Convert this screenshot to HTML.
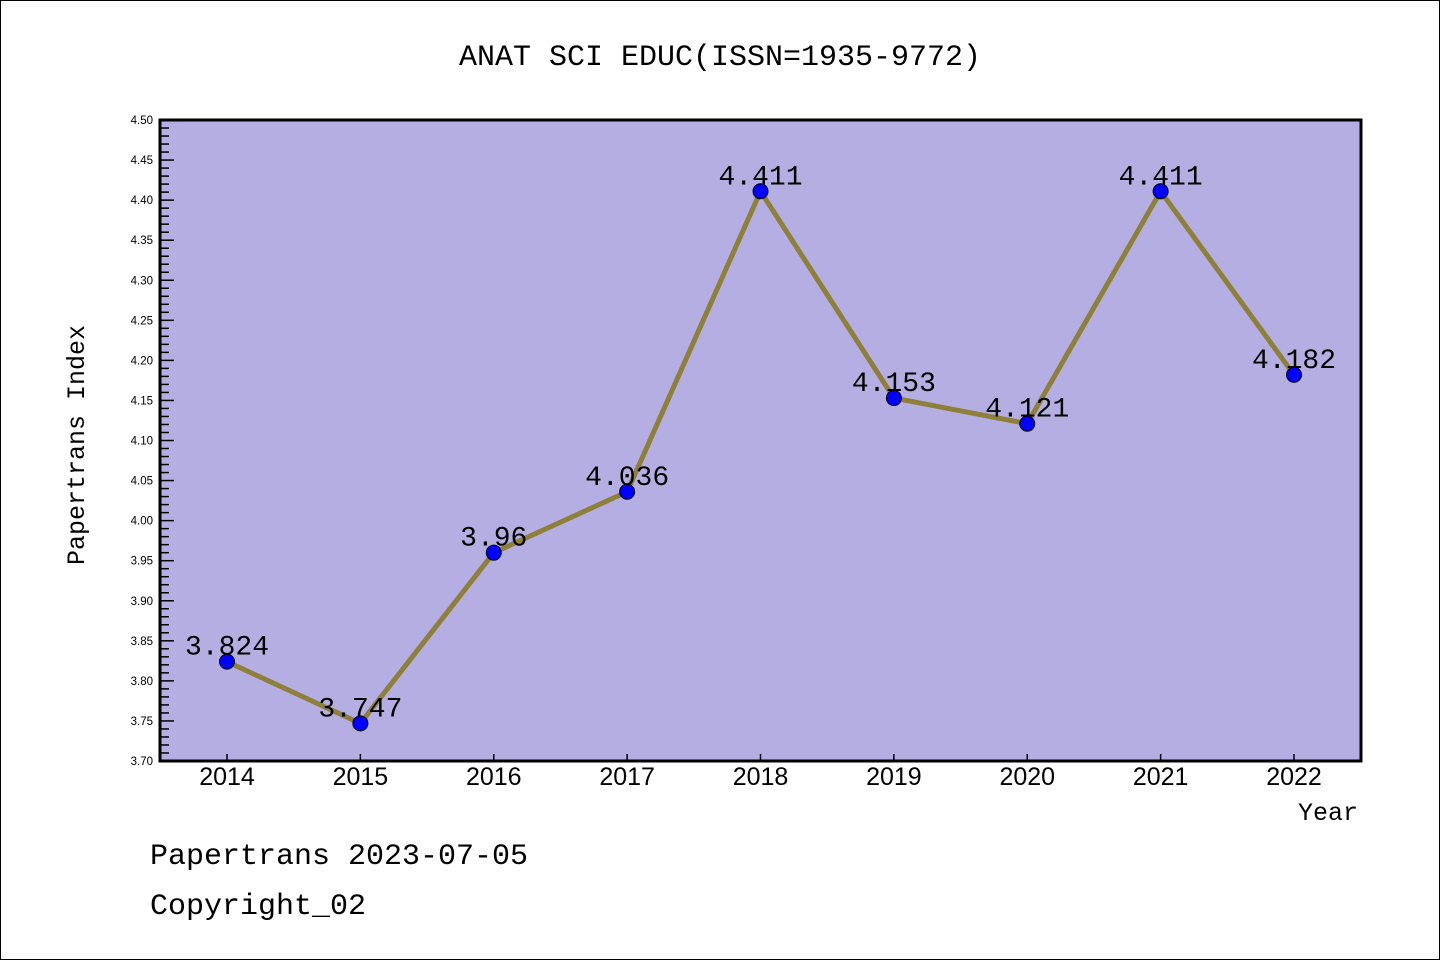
<!DOCTYPE html>
<html><head><meta charset="utf-8"><style>
html,body{margin:0;padding:0;background:#fff;}
svg{display:block;font-family:"Liberation Mono","DejaVu Sans Mono",monospace;}
</style></head><body>
<svg width="1440" height="960" viewBox="0 0 1440 960">
<rect x="0.5" y="0.5" width="1439" height="959" fill="#fff" stroke="#000"/>
<text x="720" y="65" text-anchor="middle" font-size="30">ANAT SCI EDUC(ISSN=1935-9772)</text>
<rect x="160" y="120" width="1201" height="641" fill="#b5aee2"/>
<g id="yaxis"></g>
<g id="xaxis"></g>
<g id="series"></g>
<rect x="160" y="120" width="1201" height="641" fill="none" stroke="#000" stroke-width="3"/>
<text x="84" y="445" text-anchor="middle" font-size="25" transform="rotate(-90 84 445)">Papertrans Index</text>
<text x="1358" y="820" text-anchor="end" font-size="25">Year</text>
<text x="150" y="864" font-size="30">Papertrans 2023-07-05</text>
<text x="150" y="914" font-size="30">Copyright_02</text>
<script>
const categories=["2014","2015","2016","2017","2018","2019","2020","2021","2022"];
const values=[3.824,3.747,3.96,4.036,4.411,4.153,4.121,4.411,4.182];
const valueLabels=["3.824","3.747","3.96","4.036","4.411","4.153","4.121","4.411","4.182"];
const yTickLabels=["3.70","3.75","3.80","3.85","3.90","3.95","4.00","4.05","4.10","4.15","4.20","4.25","4.30","4.35","4.40","4.45","4.50"];
const yMin=3.70,yMax=4.50;
const NS="http://www.w3.org/2000/svg";
function y(v){return 761-(v-yMin)/(yMax-yMin)*641;}
function x(i){return 227+i*133.375;}
function mk(t,a,p){const e=document.createElementNS(NS,t);for(const k in a)e.setAttribute(k,a[k]);p.appendChild(e);return e;}
const ya=document.getElementById('yaxis'),xa=document.getElementById('xaxis'),sg=document.getElementById('series');
for(let k=0;k<=80;k++){const v=yMin+k*0.01;const yy=y(v);const major=k%5===0;
 const l=mk('line',{x1:160,x2:major?174:169,y1:yy,y2:yy,stroke:'#000','stroke-width':1.5},ya);
 
 }
yTickLabels.forEach(s=>{const t=mk('text',{x:153,y:y(parseFloat(s))+4,'text-anchor':'end','font-size':11.5,'font-family':'Liberation Sans, sans-serif'},ya);t.textContent=s;
 
 });
categories.forEach((c,i)=>{const l=mk('line',{x1:x(i),x2:x(i),y1:761,y2:754,stroke:'#000','stroke-width':1.5},xa);
 
 
 const t=mk('text',{x:x(i),y:785,'text-anchor':'middle','font-size':25,'font-family':'Liberation Sans, sans-serif'},xa);t.textContent=c;
 
 });
const pl=mk('polyline',{points:values.map((v,i)=>x(i)+','+y(v)).join(' '),fill:'none',stroke:'#8e7f3a','stroke-width':5},sg);


values.forEach((v,i)=>{const c=mk('circle',{cx:x(i),cy:y(v),r:7.5,fill:'#0000ff',stroke:'#000','stroke-width':1},sg);
 
 
 const t=mk('text',{x:x(i),y:y(v)-7,'text-anchor':'middle','font-size':28},sg);t.textContent=valueLabels[i];
 
 });
</script>
</svg>
</body></html>
